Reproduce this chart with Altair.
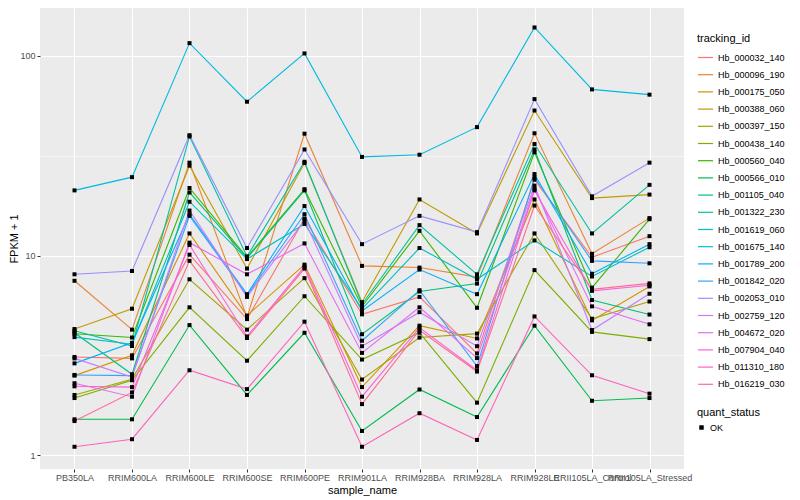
import altair as alt
import pandas as pd

samples = ["PB350LA", "RRIM600LA", "RRIM600LE", "RRIM600SE", "RRIM600PE", "RRIM901LA",
           "RRIM928BA", "RRIM928LA", "RRIM928LE", "RRII105LA_Control", "RRII105LA_Stressed"]

ids = ["Hb_000032_140", "Hb_000096_190", "Hb_000175_050", "Hb_000388_060", "Hb_000397_150",
       "Hb_000438_140", "Hb_000560_040", "Hb_000566_010", "Hb_001105_040", "Hb_001322_230",
       "Hb_001619_060", "Hb_001675_140", "Hb_001789_200", "Hb_001842_020", "Hb_002053_010",
       "Hb_002759_120", "Hb_004672_020", "Hb_007904_040", "Hb_011310_180", "Hb_016219_030"]

colors = ["#F8766D", "#EA8331", "#D89000", "#C09B00", "#A3A500", "#7CAE00", "#39B600", "#00BB4E",
          "#00BF7D", "#00C1A3", "#00BFC4", "#00BAE0", "#00B0F6", "#35A2FF", "#9590FF", "#C77CFF",
          "#E76BF3", "#FA62DB", "#FF62BC", "#FF6C91"]

hb_000032_140 = [3.1, 3.05, 10.1, 4.8, 15.3, 5.07, 6.2, 3.23, 24.0, 9.8, 12.5]
hb_000096_190 = [7.47, 4.25, 29.2, 4.9, 40.8, 8.87, 8.7, 7.8, 41.0, 10.2, 15.4]
hb_000175_050 = [2.5, 3.16, 12.9, 5.0, 9.0, 2.19, 4.45, 3.84, 19.1, 4.73, 7.0]
hb_000388_060 = [4.28, 5.41, 28.2, 8.6, 29.1, 5.84, 19.1, 12.9, 53.3, 19.4, 20.2]
hb_000397_150 = [2.0, 2.40, 7.6, 4.25, 7.7, 2.39, 3.88, 4.06, 12.9, 4.82, 5.88]
hb_000438_140 = [1.93, 2.37, 5.5, 2.97, 6.25, 3.01, 4.1, 1.83, 8.45, 4.14, 3.81]
hb_000560_040 = [4.05, 3.88, 21.8, 9.8, 21.5, 5.55, 13.3, 5.47, 32.9, 6.9, 15.2]
hb_000566_010 = [1.51, 1.51, 4.48, 2.0, 4.1, 1.32, 2.13, 1.55, 4.45, 1.87, 1.93]
hb_001105_040 = [4.1, 2.54, 20.7, 9.7, 21.2, 4.03, 6.6, 7.23, 34.0, 5.98, 5.06]
hb_001322_230 = [4.2, 3.52, 39.5, 9.9, 29.5, 5.7, 14.2, 8.05, 36.2, 12.9, 22.6]
hb_001619_060 = [3.9, 3.59, 18.6, 9.6, 14.4, 5.4, 10.9, 7.6, 11.9, 7.85, 11.0]
hb_001675_140 = [21.2, 24.7, 116, 59, 103, 31.2, 32.0, 44, 139, 68, 64]
hb_001789_200 = [2.88, 3.65, 16.1, 6.4, 17.7, 5.27, 8.5, 6.4, 25.6, 8.1, 11.4]
hb_001842_020 = [2.52, 2.50, 15.8, 6.3, 16.1, 3.74, 6.7, 2.79, 24.6, 9.4, 9.14]
hb_002053_010 = [8.05, 8.36, 40.1, 10.9, 34, 11.4, 15.8, 13.1, 60.8, 19.8, 29.2]
hb_002759_120 = [3.05, 2.46, 16.8, 6.2, 15.0, 3.51, 5.2, 3.51, 22.4, 4.23, 6.43]
hb_004672_020 = [2.29, 1.96, 11.6, 8.05, 11.5, 3.25, 5.5, 3.06, 21.6, 5.56, 4.52]
hb_007904_040 = [2.21, 2.19, 11.3, 3.93, 8.8, 1.96, 4.35, 2.66, 21.2, 6.65, 7.1]
hb_011310_180 = [1.10, 1.20, 2.66, 2.14, 4.66, 1.10, 1.62, 1.19, 4.95, 2.51, 2.03]
hb_016219_030 = [1.48, 2.06, 9.4, 3.86, 8.6, 1.80, 4.22, 2.62, 17.8, 6.77, 7.25]

series = [hb_000032_140, hb_000096_190, hb_000175_050, hb_000388_060, hb_000397_150,
          hb_000438_140, hb_000560_040, hb_000566_010, hb_001105_040, hb_001322_230,
          hb_001619_060, hb_001675_140, hb_001789_200, hb_001842_020, hb_002053_010,
          hb_002759_120, hb_004672_020, hb_007904_040, hb_011310_180, hb_016219_030]

rows = []
for tid, vals in zip(ids, series):
    for s, v in zip(samples, vals):
        rows.append({"tracking_id": tid, "sample_name": s, "value": v, "quant_status": "OK"})
df = pd.DataFrame(rows)

major_test = "datum.value == 1 || datum.value == 10 || datum.value == 100"

x_enc = alt.X("sample_name:N", sort=samples,
              scale=alt.Scale(type="point", padding=0.6),
              axis=alt.Axis(title="sample_name", labelAngle=0, labelOverlap=False,
                            grid=True, gridColor="white", gridWidth=1.1,
                            tickSize=3, tickColor="#333333", domain=False,
                            labelPadding=1, titlePadding=2))
y_enc = alt.Y("value:Q",
              scale=alt.Scale(type="log", domain=[0.851, 174], nice=False),
              axis=alt.Axis(title="FPKM + 1", values=[1, 3.1623, 10, 31.623, 100],
                            labelExpr="(" + major_test + ") ? format(datum.value, 'd') : ''",
                            grid=True, gridColor="white",
                            gridWidth={"condition": {"test": major_test, "value": 1.1}, "value": 0.55},
                            tickOpacity={"condition": {"test": major_test, "value": 1}, "value": 0},
                            tickSize=3, tickColor="#333333", domain=False,
                            labelPadding=2, titlePadding=0))

lines = alt.Chart(df).mark_line(strokeWidth=1.1).encode(
    x=x_enc, y=y_enc,
    color=alt.Color("tracking_id:N", scale=alt.Scale(domain=ids, range=colors),
                    legend=alt.Legend(title="tracking_id", orient="none", legendX=657, legendY=25,
                                      symbolType="stroke", symbolSize=225, symbolStrokeWidth=1.2,
                                      rowPadding=3.2, titlePadding=5, labelOffset=4)),
)

points = alt.Chart(df).mark_point(filled=True, color="black", size=16, opacity=1).encode(
    x=x_enc, y=y_enc,
    shape=alt.Shape("quant_status:N", scale=alt.Scale(domain=["OK"], range=["square"]),
                    legend=alt.Legend(title="quant_status", orient="none", legendX=657, legendY=399,
                                      symbolSize=20, symbolFillColor="black",
                                      symbolStrokeColor="black", titlePadding=5)),
)

chart = alt.layer(lines, points).properties(
    width=644, height=461,
    autosize=alt.AutoSizeParams(type="none"),
    padding={"left": 32, "top": 0, "right": 108, "bottom": 30},
    background="white",
).configure(font="Liberation Sans").configure_view(
    fill="#EBEBEB", strokeWidth=0
).configure_axis(
    labelColor="#4D4D4D", labelFontSize=9, titleFontSize=11, titleColor="black",
    titleFontWeight="normal"
).configure_legend(
    labelFontSize=9, titleFontSize=11, titleFontWeight="normal", titleColor="black",
    labelColor="black"
)

chart.save("out.html", embed_options={"renderer": "svg", "actions": False})
